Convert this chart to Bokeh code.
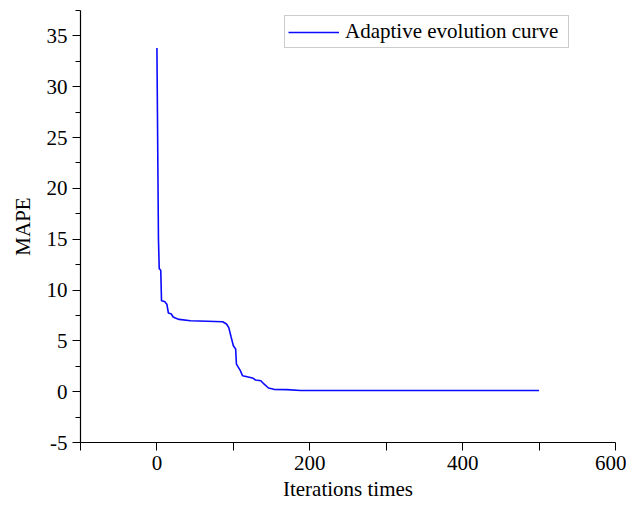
from bokeh.plotting import figure
from bokeh.models import Range1d, FixedTicker, Legend, LegendItem
from bokeh.embed import file_html
from bokeh.resources import INLINE

# Data
iterations = [0, 2, 3, 5, 6, 10, 13, 15, 19, 21, 24, 29, 44, 66, 86, 91, 94, 97,
              100, 103, 104, 106, 109, 112, 118, 125, 129, 136, 140, 146, 153,
              170, 188, 250, 350, 500]
mape = [33.8, 15.0, 12.1, 11.95, 8.95, 8.88, 8.6, 7.74, 7.64, 7.37, 7.24, 7.11,
        6.98, 6.93, 6.88, 6.66, 6.3, 5.4, 4.52, 4.2, 2.72, 2.46, 2.1, 1.57,
        1.47, 1.35, 1.15, 1.08, 0.76, 0.36, 0.23, 0.2, 0.12, 0.12, 0.12, 0.12]

x_ticks = [-100, 0, 100, 200, 300, 400, 500, 600]
x_labels = {-100: "", 0: "0", 100: "", 200: "200", 300: "", 400: "400", 500: "", 600: "600"}
y_ticks = [-5, 0, 5, 10, 15, 20, 25, 30, 35]
y_labels = {-5: "-5"}
y_minor = [-2.5, 2.5, 7.5, 12.5, 17.5, 22.5, 27.5, 32.5, 37.5]

FONT = "Liberation Serif"

p = figure(width=626, height=504, output_backend="svg", toolbar_location=None,
           x_range=Range1d(-100, 600), y_range=Range1d(-5, 37.5),
           min_border_left=80, min_border_right=11, min_border_top=10,
           min_border_bottom=62)
p.outline_line_color = None
p.grid.visible = False
p.background_fill_color = "white"
p.border_fill_color = "white"

r = p.line(iterations, mape, line_color="#0a0aff", line_width=1.6)

for ax in (p.xaxis[0], p.yaxis[0]):
    ax.axis_line_color = "black"
    ax.axis_line_width = 1.2
    ax.major_tick_line_color = "black"
    ax.minor_tick_line_color = "black"
    ax.major_tick_in = 0
    ax.major_tick_out = 8
    ax.minor_tick_in = 0
    ax.minor_tick_out = 5
    ax.major_label_text_font = FONT
    ax.major_label_text_font_size = "21px"
    ax.major_label_text_color = "black"
    ax.axis_label_text_font = FONT
    ax.axis_label_text_font_size = "21px"
    ax.axis_label_text_font_style = "normal"
    ax.axis_label_text_color = "black"

p.xaxis[0].ticker = FixedTicker(ticks=x_ticks, minor_ticks=[])
p.xaxis[0].major_label_overrides = x_labels
p.xaxis[0].major_label_standoff = 5
p.xaxis[0].axis_label = "Iterations times"
p.xaxis[0].axis_label_standoff = 4

p.yaxis[0].ticker = FixedTicker(ticks=y_ticks, minor_ticks=y_minor)
p.yaxis[0].major_label_overrides = y_labels
p.yaxis[0].major_label_standoff = 5
p.yaxis[0].axis_label = "MAPE"
p.yaxis[0].axis_label_standoff = 9

legend = Legend(items=[LegendItem(label="Adaptive evolution curve", renderers=[r])],
                location=(204, 394))
legend.label_text_font = FONT
legend.label_text_font_size = "21px"
legend.label_text_color = "black"
legend.border_line_color = "#999999"
legend.border_line_width = 1
legend.glyph_width = 51
legend.glyph_height = 24
legend.padding = 3
legend.margin = 0
legend.spacing = 0
legend.label_standoff = 6
legend.label_width = 220
legend.background_fill_alpha = 1
p.add_layout(legend, "center")

open("out.html", "w").write(file_html(p, INLINE))
